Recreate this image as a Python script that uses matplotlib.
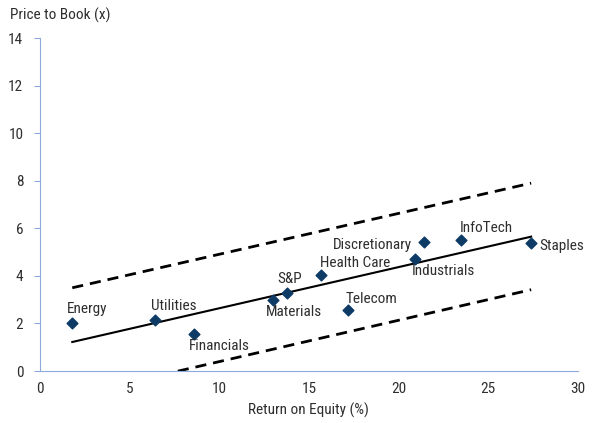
import matplotlib.pyplot as plt
from matplotlib import font_manager

# Sector values
sectors = ['Energy', 'Utilities', 'Financials', 'Materials', 'S&P', 'Health Care',
           'Telecom', 'Industrials', 'Discretionary', 'InfoTech', 'Staples']
roe = [1.8, 6.4, 8.6, 13.0, 13.8, 15.7, 17.2, 20.9, 21.4, 23.5, 27.4]
pb = [2.0, 2.13, 1.55, 2.97, 3.3, 4.03, 2.57, 4.73, 5.44, 5.53, 5.4]

# Fitted line and +/- band endpoints
trend_x = [1.8, 27.4]
trend_y = [1.22, 5.65]
upper_y = [3.5, 7.9]
lower_y = [-1.03, 3.42]

# label placement: (dx px, dy px, ha, va)
label_pos = {
    'Energy': (-5, 7, 'left', 'bottom'),
    'Utilities': (-4, 7, 'left', 'bottom'),
    'Financials': (-5, -5, 'left', 'top'),
    'Materials': (-7, -5, 'left', 'top'),
    'S&P': (-10, 7, 'left', 'bottom'),
    'Health Care': (-1, 5, 'left', 'bottom'),
    'Telecom': (-3, 4, 'left', 'bottom'),
    'Industrials': (-3, -5, 'left', 'top'),
    'Discretionary': (-12, -3, 'right', 'center'),
    'InfoTech': (-1, 5, 'left', 'bottom'),
    'Staples': (8, -3, 'left', 'center'),
}

# pick a condensed face, the original uses a narrow font
names = {f.name for f in font_manager.fontManager.ttflist}
condensed = sorted({f.name for f in font_manager.fontManager.ttflist
                    if str(f.stretch) in ('condensed', 'semi-condensed', '75', '87')})
font = 'Roboto'
for cand in ['Liberation Sans Narrow', 'DejaVu Sans Condensed', 'Roboto Condensed',
             'Open Sans Condensed'] + condensed:
    if cand in names:
        font = cand
        break
plt.rcParams['font.family'] = [font, 'DejaVu Sans']
fs = 11
txt = '#2e2e2e'

fig = plt.figure(figsize=(6.09, 4.23), dpi=100)
ax = fig.add_axes([0.0657, 0.1229, 0.883, 0.787])

ax.plot(trend_x, trend_y, color='black', lw=1.5)
ax.plot(trend_x, upper_y, color='black', lw=2, ls=(0, (4, 2.5)))
ax.plot(trend_x, lower_y, color='black', lw=2, ls=(0, (4, 2.5)))
ax.scatter(roe, pb, marker='D', s=30, color='#0d3b66', zorder=3)

for name, x, y in zip(sectors, roe, pb):
    dx, dy, ha, va = label_pos[name]
    ax.annotate(name, (x, y), xytext=(dx * 0.72, dy * 0.72), textcoords='offset points',
                ha=ha, va=va, color=txt, fontsize=fs)

ax.set_xlim(0, 30)
ax.set_ylim(0, 14)
ax.set_xticks([0, 5, 10, 15, 20, 25, 30])
ax.set_yticks(range(0, 15, 2))
for s in ['top', 'right']:
    ax.spines[s].set_visible(False)
for s in ['left', 'bottom']:
    ax.spines[s].set_color('#8eaadb')
ax.tick_params(axis='y', color='#8eaadb', length=4, labelsize=fs, pad=8, labelcolor=txt)
ax.tick_params(axis='x', length=0, labelsize=fs, pad=8, labelcolor=txt)

fig.text(10 / 609, 1 - 15 / 423, 'Price to Book (x)', ha='left', va='center',
         fontsize=fs, color=txt)
ax.set_xlabel('Return on Equity (%)', fontsize=fs, labelpad=5, color=txt)

fig.savefig('out.png', dpi=100)
